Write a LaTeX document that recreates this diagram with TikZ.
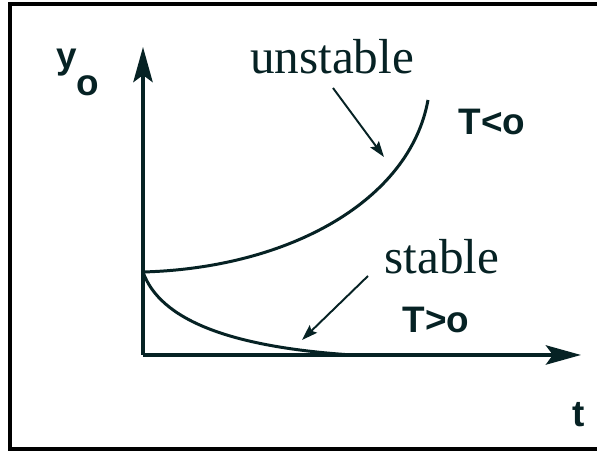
\documentclass[tikz,border=0pt]{standalone}
\usepackage{fontspec}
\setmainfont{Liberation Serif}
\setsansfont{Liberation Sans}
\usetikzlibrary{arrows.meta}

\definecolor{ink}{RGB}{6,34,36}

\tikzset{
    axis/.style={draw=ink, line width=2pt, -{Stealth[length=20pt,width=11pt,inset=4pt]}},
    curve/.style={draw=ink, line width=1.7pt},
    pointer/.style={draw=ink, line width=1.1pt, -{Stealth[length=9pt,width=6pt,inset=1.5pt]}},
    word/.style={text=ink, inner sep=0pt, font=\fontsize{28}{30}\selectfont},
    tag/.style={text=ink, inner sep=0pt, font=\sffamily\bfseries\fontsize{21}{24}\selectfont},
}

\begin{document}
\begin{tikzpicture}[x=0.02cm, y=-0.02cm]
        \fill[white] (0,0) rectangle (599,452);
        \draw[line width=2.3pt] (597,4) -- (10,4) -- (10,449) -- (597,449);

        \coordinate (origin) at (143,355);
        \coordinate (ytop) at (143,47);
        \coordinate (tend) at (581,355);
        \coordinate (start) at (143,272);
        \coordinate (up) at (428,100);
        \coordinate (down) at (352,355);

        \node[tag, anchor=base west] (ylab) at (56,69) {y\raisebox{-0.72em}{o}};
        \node[tag, anchor=base] (tlab) at (579,427) {t};
        \node[word, anchor=base] (unst) at (332,74) {unstable};
        \node[word, anchor=base] (stab) at (442,274) {stable};
        \node[tag, anchor=base] (tneg) at (492,135) {T<o};
        \node[tag, anchor=base] (tpos) at (436,333) {T>o};

        \coordinate (unsttip) at (384,157);
        \coordinate (stabtip) at (302,340);

        \draw[axis] (origin) -- (ytop);
        \draw[axis] (origin) -- (tend);

        \draw[curve] (start) .. controls (290,268) and (410,200) .. (up);
        \draw[curve] (start) .. controls (160,320) and (230,347) .. (down);

        \draw[pointer] (333,88) -- (unsttip);
        \draw[pointer] (368,276) -- (stabtip);

        \end{tikzpicture}
\end{document}
